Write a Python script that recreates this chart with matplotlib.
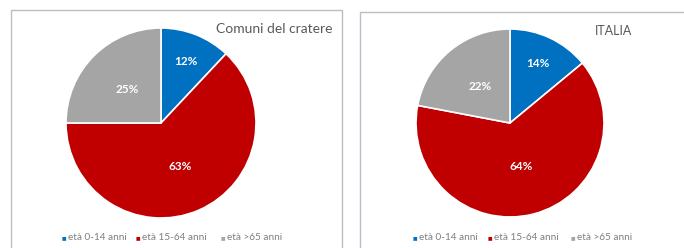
import matplotlib
matplotlib.use("Agg")
import matplotlib.pyplot as plt
from matplotlib.patches import Rectangle
import numpy as np

categories = ["età 0-14 anni", "età 15-64 anni", "età >65 anni"]
titles = ["Comuni del cratere", "ITALIA"]
values_cratere = [12, 63, 25]
values_italia = [14, 64, 22]
colors = ["#0070C0", "#C00000", "#A5A5A5"]

plt.rcParams['font.family'] = ['Lato', 'DejaVu Sans']
W, H = 684, 248
fig = plt.figure(figsize=(W/100, H/100), dpi=100)
fig.patch.set_facecolor("white")

def fx(x): return x / W
def fy(y): return 1 - y / H

# panel frames
panels = [(11, 10, 331), (360, 12, 330)]
for (x0, y0, w) in panels:
    r = Rectangle((fx(x0), fy(260)), w / W, (260 - y0) / H, transform=fig.transFigure,
                  facecolor="white", edgecolor="#B8BEC6", linewidth=1.0, zorder=-5)
    fig.patches.append(r)

configs = [
    dict(vals=values_cratere, cx=161, cy=123, r=95, dists=[0.7, 0.5, 0.5],
         title=titles[0], tx=333, ty=29, fs=10, lx=[64, 138, 223]),
    dict(vals=values_italia, cx=510, cy=123, r=94, dists=[0.7, 0.48, 0.5],
         title=titles[1], tx=632, ty=31, fs=9, lx=[415, 490, 573]),
]

for c in configs:
    ax = fig.add_axes([fx(c['cx'] - c['r']), fy(c['cy'] + c['r']), 2 * c['r'] / W, 2 * c['r'] / H])
    ax.set_zorder(2)
    ax.patch.set_alpha(0)
    wedges, _ = ax.pie(c['vals'], colors=colors, startangle=90, counterclock=False,
                       wedgeprops=dict(edgecolor="white", linewidth=1.2))
    ax.set_xlim(-1, 1); ax.set_ylim(-1, 1)
    ax.set_aspect('equal')
    for wdg, v, d in zip(wedges, c['vals'], c['dists']):
        ang = np.deg2rad((wdg.theta1 + wdg.theta2) / 2)
        ax.text(d * np.cos(ang), d * np.sin(ang), f"{v}%", ha="center", va="center",
                color="white", fontsize=8.5, fontweight="bold")
    fig.text(fx(c['tx']), fy(c['ty']), c['title'], ha="right", va="center",
             fontsize=c['fs'], color="#595959")
    for x, col, lab in zip(c['lx'], colors, categories):
        fig.text(fx(x), fy(238), "■", ha="center", va="center", fontsize=3.5, color=col,
                 family=['DejaVu Sans'])
        fig.text(fx(x + 4), fy(238), lab, ha="left", va="center", fontsize=7.2, color="#7F7F7F")

fig.savefig("out.png", dpi=100, facecolor="white")
